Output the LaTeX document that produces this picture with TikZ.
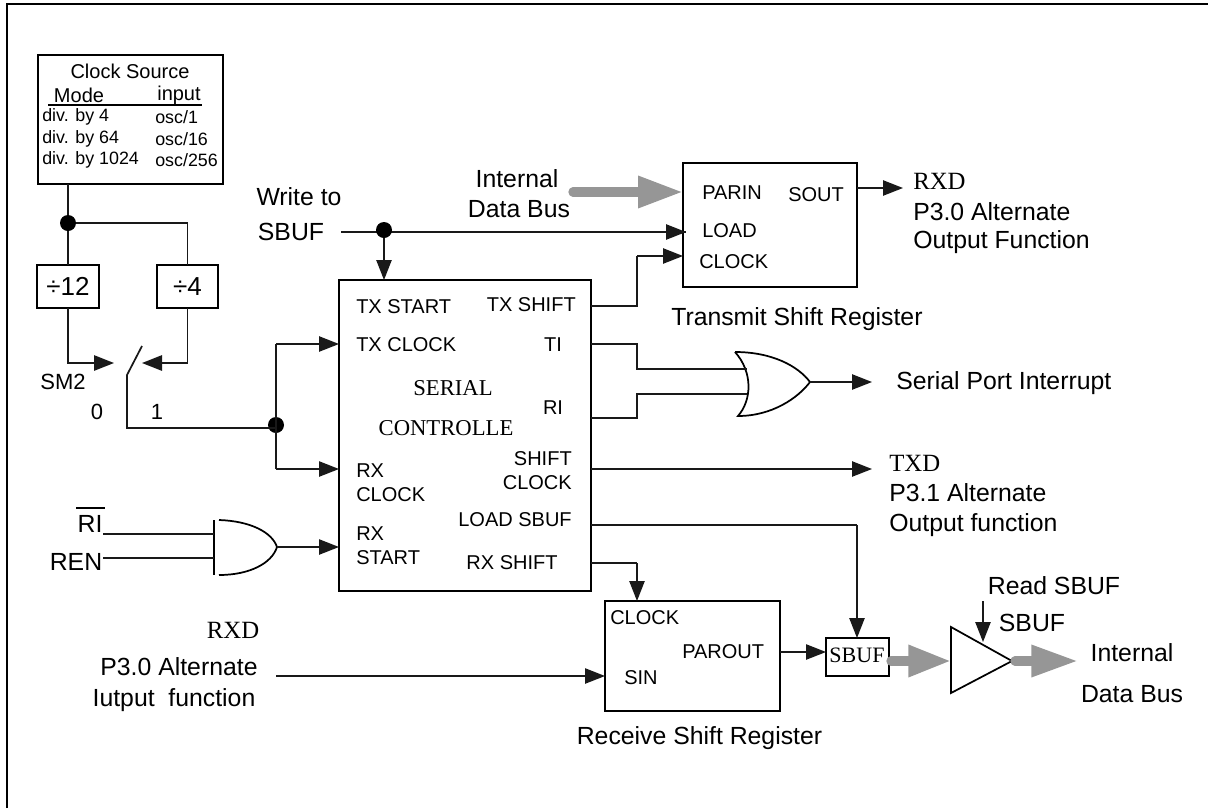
\documentclass[tikz,border=0pt]{standalone}
\usepackage{fontspec}
\setmainfont{Liberation Sans}
\newfontfamily\serifrm{Liberation Serif}
\usetikzlibrary{arrows.meta,calc}
\newcommand{\fsz}[1]{\fontsize{#1}{#1}\selectfont}
\tikzset{
  px/.style={x=0.75pt,y=-0.75pt},
  wire/.style={line width=1.05pt,draw=black!90},
  box/.style={draw=black,line width=1.5pt,inner sep=0pt,outer sep=0pt,rectangle,fill=white},
  gate/.style={draw=black,line width=1.3pt},
  tip/.style={-{Triangle[length=15pt,width=11.5pt]}},
  dot/.style={circle,fill=black,inner sep=0pt,outer sep=0pt,minimum size=12pt},
  big/.style={font=\fsz{18.6pt},inner sep=0pt},
  lab/.style={font=\fsz{15pt},inner sep=0pt},
  sml/.style={font=\fsz{13.4pt},inner sep=0pt},
  ser/.style={font=\fsz{17pt}\serifrm,inner sep=0pt},
  serb/.style={font=\fsz{18.6pt}\serifrm,inner sep=0pt},
  bus/.style={draw=busgray,line width=7pt,line cap=round},
}
\definecolor{busgray}{HTML}{969696}
\begin{document}
\begin{tikzpicture}[px]
\useasboundingbox (0,0) rectangle (1208,808);
\coordinate (fa) at (7,808); \coordinate (fb) at (7,4); \coordinate (fc) at (1208,4);
\draw[line width=1.5pt] (fa) -- (fb) -- (fc);

% boxes
\node[box,minimum width=185*0.75pt,minimum height=129*0.75pt] (clk) at (130.5,119.5) {};
\node[box,minimum width=62*0.75pt,minimum height=43*0.75pt] (d12) at (68,286.5) {};
\node[box,minimum width=61*0.75pt,minimum height=43*0.75pt] (d4) at (187.5,286.5) {};
\node[box,minimum width=252*0.75pt,minimum height=311*0.75pt] (ctrl) at (465,435.5) {};
\node[box,minimum width=174*0.75pt,minimum height=124*0.75pt] (tsr) at (770,225) {};
\node[box,minimum width=175*0.75pt,minimum height=110*0.75pt] (rsr) at (692.5,656) {};
\node[box,minimum width=63*0.75pt,minimum height=38*0.75pt] (sbufbox) at (857.5,657) {};

% clock box text
\node[lab] (cs) at (130,71) {Clock Source};
\node[lab] (cm) at (79,95) {Mode};
\node[lab] (ci) at (179,95) {input};
\coordinate (ula) at (48,105); \coordinate (ulb) at (202,105);
\draw[line width=1.4pt] (ula) -- (ulb);
\node[sml,anchor=west] (m1) at (42,117) {div. by 4};
\node[sml,anchor=west] (m2) at (42,139) {div. by 64};
\node[sml,anchor=west] (m3) at (42,160) {div. by 1024};
\node[sml,anchor=west] (o1) at (155,117) {osc/1};
\node[sml,anchor=west] (o2) at (155,139) {osc/16};
\node[sml,anchor=west] (o3) at (155,160) {osc/256};

% dividers
\node[font=\fsz{19.5pt},inner sep=0pt] (d12t) at (d12) {÷12};
\node[font=\fsz{19.5pt},inner sep=0pt] (d4t) at (d4) {÷4};
\node[dot] (dot1) at (68,223) {};
\draw[wire,line width=1.3pt] (dot1 |- clk.south) -- (dot1);
\draw[wire,line width=1.3pt] (dot1) -- (d12.north);
\draw[wire,line width=1.3pt] (dot1) -| (d4.north);
\coordinate (sw0) at (114,363); \coordinate (sw1) at (142,363);
\draw[wire,tip,line width=1.3pt] (d12.south) |- (sw0);
\draw[wire,tip,line width=1.3pt] (d4.south) |- (sw1);
\coordinate (swt) at (142,346); \coordinate (swp) at (127,375); \coordinate (swc) at (127,428);
\node[dot] (dot2) at (276,425) {};
\coordinate (swe) at (276,428);
\draw[wire,line width=1.3pt] (swt) -- (swp) -- (swc) -- (swe);
\node[font=\fsz{16.5pt},inner sep=0pt] (sm2) at (63,382) {SM2};
\node[font=\fsz{16.5pt},inner sep=0pt] (sw0t) at (97,412) {0};
\node[font=\fsz{16.5pt},inner sep=0pt] (sw1t) at (157,412) {1};
\coordinate (tt) at (276,344); \coordinate (tb) at (276,469);
\draw[wire] (tb) -- (tt);
\draw[wire,tip] (tt) -- (tt -| ctrl.west);
\draw[wire,tip] (tb) -- (tb -| ctrl.west);

% controller text
\node[lab,anchor=west] (c1) at (356,307) {TX START};
\node[lab,anchor=west] (c2) at (356,345) {TX CLOCK};
\node[lab,anchor=east] (c3) at (576,305) {TX SHIFT};
\node[lab] (c4) at (553,345) {TI};
\node[ser] (c5) at (453,388) {SERIAL};
\node[ser] (c6) at (446,428) {CONTROLLE};
\node[lab] (c7) at (553,408) {RI};
\node[lab,anchor=east] (c8) at (572,459) {SHIFT};
\node[lab,anchor=east] (c9) at (572,483) {CLOCK};
\node[lab,anchor=west] (c10) at (356,471) {RX};
\node[lab,anchor=west] (c11) at (356,495) {CLOCK};
\node[lab,anchor=west] (c12) at (356,534) {RX};
\node[lab,anchor=west] (c13) at (356,558) {START};
\node[lab,anchor=east] (c14) at (572,520) {LOAD SBUF};
\node[lab] (c15) at (512,563) {RX SHIFT};

% write to SBUF
\node[big] (wt) at (299,197) {Write to};
\node[big] (ws) at (291,232) {SBUF};
\coordinate (ws0) at (341,232); \coordinate (ws1) at (686,232);
\draw[wire] (ws0) -- (ws1);
\draw[wire,tip] (ws0) -- (ws1);
\node[dot] (dot3) at (384,230) {};
\draw[wire,tip] (dot3) -- (dot3 |- ctrl.north);

% internal bus to transmit register
\node[big] (ib1) at (517,179) {Internal};
\node[big] (ib2) at (519,209) {Data Bus};
\coordinate (bus1) at (573,192);
\draw[bus,-{Triangle[length=33.75pt,width=22.5pt,fill=busgray,color=busgray]}] (bus1) -- (bus1 -| tsr.west);

\node[lab,anchor=west] (t1) at (702,193) {PARIN};
\node[lab,anchor=west] (t2) at (788,195) {SOUT};
\node[lab,anchor=west] (t3) at (702,231) {LOAD};
\node[lab,anchor=west] (t4) at (699,262) {CLOCK};
\node[big,anchor=west] (tn) at (671,319) {Transmit Shift Register};

\coordinate (sh0) at (591,306); \coordinate (sh1) at (637,306); \coordinate (sh2) at (637,256);
\draw[wire] (sh0) -- (sh1) -- (sh2);
\draw[wire,tip] (sh2) -- (sh2 -| tsr.west);

\coordinate (so0) at (857,188); \coordinate (so1) at (903,188);
\draw[wire,tip] (so0) -- (so1);
\node[serb,anchor=west] (rx1) at (913,181) {RXD};
\node[big,anchor=west] (rx2) at (913,212) {P3.0 Alternate};
\node[big,anchor=west] (rx3) at (913,242) {Output Function};

% OR gate
\coordinate (ora) at (735,352); \coordinate (orb) at (738,416); \coordinate (ort) at (810,382);
\draw[gate] (ora) .. controls (772,352) and (798,366) .. (ort)
  .. controls (798,398) and (772,416) .. (orb)
  .. controls (752,400) and (753,372) .. (ora);
\coordinate (ti0) at (591,344); \coordinate (ti1) at (637,344); \coordinate (ti2) at (637,369); \coordinate (ti3) at (747,369);
\draw[wire] (ti0) -- (ti1) -- (ti2) -- (ti3);
\coordinate (ri0) at (591,418); \coordinate (ri1) at (637,418); \coordinate (ri2) at (637,394); \coordinate (ri3) at (747,394);
\draw[wire] (ri0) -- (ri1) -- (ri2) -- (ri3);
\coordinate (oro) at (872,382);
\draw[wire,tip] (ort) -- (oro);
\node[big,anchor=west] (spi) at (896,383) {Serial Port Interrupt};

% TXD
\coordinate (tx0) at (591,469); \coordinate (tx1) at (872,469);
\draw[wire,tip] (tx0) -- (tx1);
\node[serb,anchor=west] (tx2) at (889,463) {TXD};
\node[big,anchor=west] (tx3) at (889,493) {P3.1 Alternate};
\node[big,anchor=west] (tx4) at (889,525) {Output function};

% AND gate
\coordinate (ana) at (214,520); \coordinate (anb) at (214,575);
\draw[gate] (ana) -- (anb);
\coordinate (an1) at (219,520); \coordinate (an2) at (219,575); \coordinate (ant) at (277,547);
\draw[gate] (an1) .. controls (250,521) and (272,532) .. (ant) .. controls (272,563) and (250,575) .. (an2);
\node[big] (ritxt) at (90,524) {RI};
\coordinate (ol1) at (76,508); \coordinate (ol2) at (105,508);
\draw[line width=1.05pt] (ol1) -- (ol2);
\node[big] (ren) at (76,562) {REN};
\coordinate (ai1) at (103,534); \coordinate (ai2) at (103,558);
\draw[wire] (ai1) -- (ai1 -| ana);
\draw[wire] (ai2) -- (ai2 -| ana);
\draw[wire,tip] (ant) -- (ant -| ctrl.west);

% RXD input
\node[serb] (rxi1) at (233,630) {RXD};
\node[big] (rxi2) at (179,667) {P3.0 Alternate};
\node[big] (rxi3) at (174,700) {Iutput\ \ function};
\coordinate (sin0) at (276,676);
\draw[wire,tip] (sin0) -- (sin0 -| rsr.west);

% receive register
\node[lab,anchor=west] (r1) at (610,618) {CLOCK};
\node[lab,anchor=west] (r2) at (682,652) {PAROUT};
\node[lab,anchor=west] (r3) at (624,678) {SIN};
\node[big] (rn) at (699.5,738) {Receive Shift Register};
\coordinate (rs0) at (591,563); \coordinate (rs1) at (637,563);
\draw[wire] (rs0) -- (rs1);
\draw[wire,tip] (rs1) -- (rs1 |- rsr.north);
\coordinate (ls0) at (591,525); \coordinate (ls1) at (857,525);
\draw[wire] (ls0) -- (ls1);
\draw[wire,tip] (ls1) -- (ls1 |- sbufbox.north);
\coordinate (po) at (780,652);
\draw[wire,tip] (po) -- (po -| sbufbox.west);
\node[font=\fsz{16.5pt}\serifrm,inner sep=0pt] (sbt) at (857,655) {SBUF};

% buffer
\coordinate (ba) at (951,627); \coordinate (bb) at (951,693); \coordinate (bt) at (1012,661);
\draw[gate] (ba) -- (bb) -- (bt) -- cycle;
\coordinate (bus2) at (891,661); \coordinate (bus2e) at (951,661);
\draw[bus,-{Triangle[length=32pt,width=22.5pt,fill=busgray,color=busgray]}] (bus2) -- (bus2e);
\coordinate (bus3) at (1015,661); \coordinate (bus3e) at (1078,661);
\draw[bus,-{Triangle[length=35pt,width=22.5pt,fill=busgray,color=busgray]}] (bus3) -- (bus3e);
\coordinate (rd0) at (983,601); \coordinate (rd1) at (983,642);
\draw[wire,tip] (rd0) -- (rd1);
\node[big] (rd) at (1054,586) {Read SBUF};
\node[big] (rds) at (1032,623) {SBUF};
\node[big] (ib3) at (1132,653) {Internal};
\node[big] (ib4) at (1132,694) {Data Bus};
\end{tikzpicture}
\end{document}
